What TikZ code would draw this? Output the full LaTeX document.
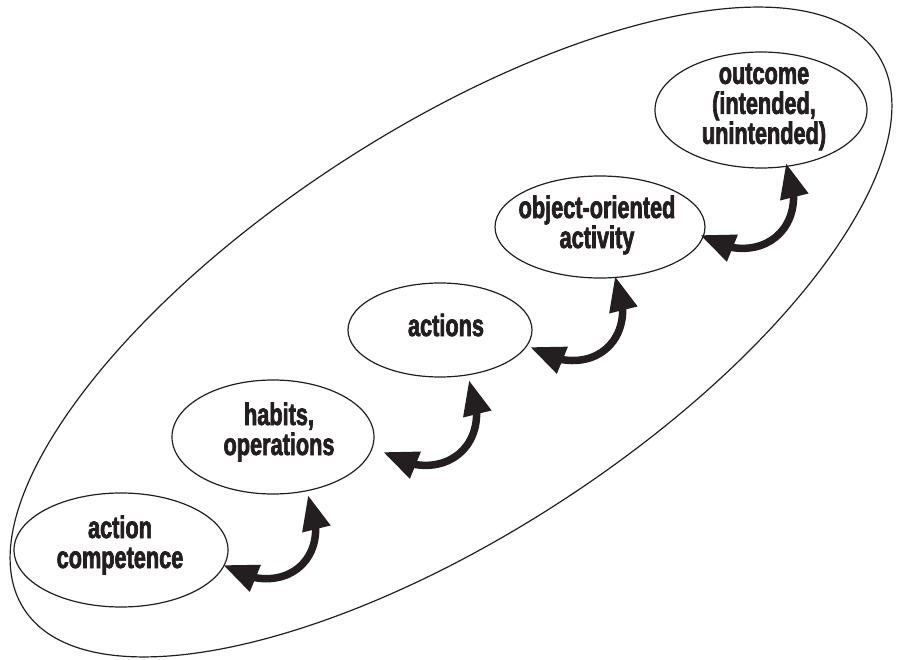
\documentclass[tikz,border=0pt]{standalone}
\usepackage{fontspec}
\newfontfamily\lblfont[FakeStretch=0.70,FakeBold=2.2]{Liberation Sans}
\usetikzlibrary{arrows.meta,shapes.geometric,bending}
\definecolor{ink}{RGB}{35,31,32}
\begin{document}
\begin{tikzpicture}[x=1pt,y=-1pt,
  ell/.style={draw=ink, ellipse, line width=1.2pt, inner sep=0pt},
  lbl/.style={font=\lblfont\bfseries\fontsize{31}{30}\selectfont, align=center, text=ink, inner sep=0pt},
  dbl/.style={line width=7.5pt, draw=ink, {Triangle[length=35pt,width=27pt]}-{Triangle[length=35pt,width=27pt]}}]
\useasboundingbox (0,0) rectangle (900,660);
% outer ellipse
\node[ell, minimum width=1018pt, minimum height=404pt, rotate=33] (outer) at (451,332) {};
% inner ellipses
\node[ell, minimum width=214pt, minimum height=114pt] (e1) at (121,550) {};
\node[ell, minimum width=202pt, minimum height=114pt] (e2) at (273,437) {};
\node[ell, minimum width=184pt, minimum height=94pt] (e3) at (440,330) {};
\node[ell, minimum width=210pt, minimum height=102pt] (e4) at (600,227) {};
\node[ell, minimum width=212pt, minimum height=116pt] (e5) at (761,110) {};
% labels
\node[lbl] (t1) at (120,545) {action\\competence};
\node[lbl] (t2) at (279,432) {habits,\\operations};
\node[lbl] (t3) at (446,325) {actions};
\node[lbl] (t4) at (597,225) {object-oriented\\activity};
\node[lbl] (t5) at (764,107) {outcome\\(intended,\\unintended)};
% arrow end points
\coordinate (a1s) at (223,565); \coordinate (a1e) at (308,495);
\coordinate (a2s) at (383,452); \coordinate (a2e) at (469,380);
\coordinate (a3s) at (530,347); \coordinate (a3e) at (615,276);
\coordinate (a4s) at (700,235); \coordinate (a4e) at (786,163);
\draw[dbl] (a1s) .. controls +(60,37) and +(28,64) .. (a1e);
\draw[dbl] (a2s) .. controls +(60,37) and +(28,64) .. (a2e);
\draw[dbl] (a3s) .. controls +(60,37) and +(28,64) .. (a3e);
\draw[dbl] (a4s) .. controls +(60,37) and +(28,64) .. (a4e);
\end{tikzpicture}
\end{document}
